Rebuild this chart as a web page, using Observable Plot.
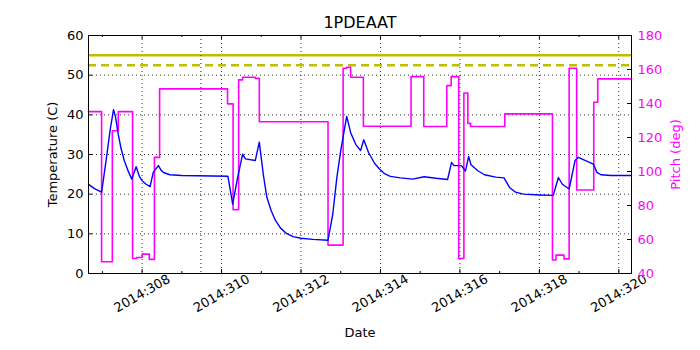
<!DOCTYPE html>
<html><head><meta charset="utf-8">
<script src="https://cdn.jsdelivr.net/npm/d3@7"></script>
<script src="https://cdn.jsdelivr.net/npm/@observablehq/plot@0.6"></script>
<style>body{margin:0;background:#fff;}</style>
</head><body><div id="chart"></div>
<script>
const title = "1PDEAAT";
const xLabel = "Date";
const yLabel = "Temperature (C)";
const y2Label = "Pitch (deg)";

const tempDays = [306.66,306.80,306.98,307.10,307.20,307.28,307.33,307.40,307.47,307.55,307.65,307.74,307.85,307.93,308.00,308.10,308.20,308.28,308.41,308.48,308.55,308.70,309.00,310.16,310.28,310.40,310.53,310.60,310.85,310.95,311.05,311.14,311.25,311.35,311.48,311.62,311.80,312.00,312.30,312.68,312.80,312.90,313.00,313.15,313.25,313.38,313.50,313.58,313.70,313.85,313.97,314.10,314.25,314.50,314.81,315.10,315.40,315.69,315.79,315.85,316.04,316.14,316.22,316.28,316.45,316.62,316.90,317.11,317.25,317.40,317.60,318.00,318.35,318.48,318.58,318.75,318.90,318.98,319.15,319.36,319.45,319.55,319.80,320.32];
const tempValues = [22.4,21.4,20.5,29.0,36.5,41.3,39.5,35.0,31.5,28.5,25.8,23.8,26.9,24.5,23.4,22.5,21.9,25.5,27.2,26.0,25.4,24.9,24.7,24.5,17.5,24.0,30.1,28.9,28.5,33.1,25.0,19.2,15.8,13.5,11.5,10.2,9.3,8.9,8.6,8.4,15.0,24.0,31.0,39.6,35.5,32.5,31.0,33.7,30.5,27.8,26.4,25.2,24.5,24.1,23.8,24.4,24.0,23.7,28.0,27.2,27.2,25.8,29.5,27.4,25.9,24.9,24.3,24.1,21.7,20.5,20.0,19.8,19.7,24.2,22.5,21.3,28.5,29.3,28.5,27.6,25.5,24.9,24.7,24.7];

const pitchDays = [306.65,306.98,307.25,307.40,307.76,307.86,308.00,308.18,308.31,308.44,310.15,310.29,310.43,310.53,310.85,310.95,312.68,313.06,313.15,313.25,313.57,314.77,315.09,315.67,315.78,315.97,316.10,316.20,316.27,317.13,318.33,318.42,318.62,318.75,318.94,319.37,319.47,320.32];
const pitchValues = [135.2,46.9,124.0,135.2,48.8,49.4,51.4,48.3,108.3,148.6,139.8,77.5,153.9,155.4,154.8,129.3,56.7,160.7,161.3,155.4,126.6,155.8,126.5,150.5,155.8,48.8,146.2,128.3,126.5,133.9,47.9,50.8,48.6,160.7,89.1,140.7,154.5,154.5];

const xTickDays = [308,310,312,314,316,318,320];
const xMinorDays = [307,309,311,313,315,317,319];
const xTickLabels = ["2014:308","2014:310","2014:312","2014:314","2014:316","2014:318","2014:320"];
const tempTicks = [0,10,20,30,40,50,60];
const pitchTicks = [40,60,80,100,120,140,160,180];
const limitSolid = [55];
const limitDashed = [52.5];
const markerDay = [309.48];
const xDomain = [306.65, 320.32];
const yDomain = [0, 60];
const pitchDomain = [40, 180];

const toT = p => (p - pitchDomain[0]) * (yDomain[1] - yDomain[0]) / (pitchDomain[1] - pitchDomain[0]) + yDomain[0];
const toP = t => (t - yDomain[0]) * (pitchDomain[1] - pitchDomain[0]) / (yDomain[1] - yDomain[0]) + pitchDomain[0];

const temp = tempDays.map((d, i) => ({d, v: tempValues[i]}));
const pitch = pitchDays.map((d, i) => ({d, v: toT(pitchValues[i])}));
const magenta = "#ff00ff";
const yellow = "#bfbf00";

const chart = Plot.plot({
  width: 700, height: 350,
  marginLeft: 88, marginRight: 69, marginTop: 35, marginBottom: 77,
  style: {fontFamily: "DejaVu Sans, sans-serif", fontSize: "13px", background: "white", color: "black"},
  x: {domain: xDomain},
  y: {domain: yDomain},
  marks: [
    Plot.gridX(xTickDays, {stroke: "black", strokeOpacity: 1, strokeDasharray: "1,3", strokeWidth: 0.8}),
    Plot.gridY(tempTicks.slice(1, -1), {stroke: "black", strokeOpacity: 1, strokeDasharray: "1,3", strokeWidth: 0.8}),
    Plot.ruleY(limitSolid, {stroke: yellow, strokeWidth: 2.5}),
    Plot.ruleY(limitDashed, {stroke: yellow, strokeWidth: 2.5, strokeDasharray: "8,5"}),
    Plot.ruleX(markerDay, {stroke: "green", strokeWidth: 1.3, strokeDasharray: "1,3"}),
    Plot.line(pitch, {x: "d", y: "v", curve: "step-after", stroke: magenta, strokeWidth: 1.6}),
    Plot.line(temp, {x: "d", y: "v", stroke: "blue", strokeWidth: 1.4}),
    // inward ticks
    Plot.ruleX(xTickDays, {y1: yDomain[0], y2: yDomain[0] + 1, stroke: "black"}),
    Plot.ruleX(xTickDays, {y1: yDomain[1] - 1, y2: yDomain[1], stroke: "black"}),
    Plot.ruleX(xMinorDays, {y1: yDomain[0], y2: yDomain[0] + 0.5, stroke: "black"}),
    Plot.ruleX(xMinorDays, {y1: yDomain[1] - 0.5, y2: yDomain[1], stroke: "black"}),
    Plot.ruleY(tempTicks, {x1: xDomain[0], x2: xDomain[0] + 0.1, stroke: "black"}),
    Plot.ruleY(pitchTicks.map(toT), {x1: xDomain[1] - 0.1, x2: xDomain[1], stroke: "black"}),
    Plot.frame({stroke: "black"}),
    Plot.axisX(xTickDays, {tickSize: 0, tickFormat: d => xTickLabels[xTickDays.indexOf(d)], tickRotate: -30, textAnchor: "middle", lineAnchor: "middle", tickPadding: 20, label: null}),
    Plot.axisY(tempTicks, {tickSize: 0, tickPadding: 5, label: null}),
    Plot.axisY(pitchTicks.map(toT), {anchor: "right", tickSize: 0, tickPadding: 6, color: magenta, tickFormat: t => String(Math.round(toP(t))), label: null}),
    Plot.text([title], {frameAnchor: "top", dy: -13, fontSize: 16, lineAnchor: "middle"}),
    Plot.text([xLabel], {frameAnchor: "bottom", dy: 59, lineAnchor: "middle"}),
    Plot.text([yLabel], {frameAnchor: "left", dx: -36, rotate: -90, textAnchor: "middle", lineAnchor: "middle"}),
    Plot.text([y2Label], {frameAnchor: "right", dx: 44, rotate: -90, textAnchor: "middle", lineAnchor: "middle", fill: magenta})
  ]
});
document.getElementById("chart").appendChild(chart);
</script>
</body></html>
